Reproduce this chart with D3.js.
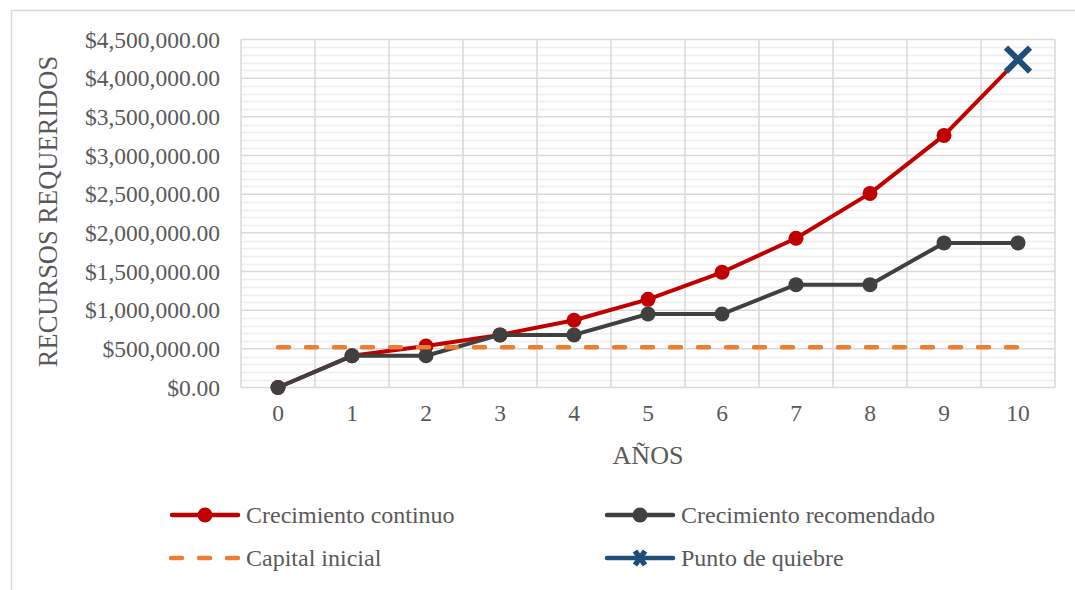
<!DOCTYPE html>
<html>
<head>
<meta charset="utf-8">
<script src="https://cdn.jsdelivr.net/npm/d3@7"></script>
<style>
  html, body { margin: 0; padding: 0; background: #ffffff; }
  svg { display: block; }
  text { font-family: "Liberation Serif", "Times New Roman", serif; fill: #595959; }
</style>
</head>
<body>
<svg id="chart" width="1075" height="590"></svg>
<script>
// Años del horizonte de inversión
const years = [0, 1, 2, 3, 4, 5, 6, 7, 8, 9, 10];
// Recursos requeridos con crecimiento continuo
const continuo = [0, 410000, 537000, 680000, 870000, 1140000, 1490000, 1930000, 2510000, 3260000, 4240000];
// Recursos requeridos con crecimiento recomendado (por etapas)
const recomendado = [0, 410000, 410000, 680000, 680000, 950000, 950000, 1330000, 1330000, 1870000, 1870000];
// Capital inicial disponible
const capitalInicial = 520000;
// Punto de quiebre (año, recursos)
const quiebreYear = 10;
const quiebreValue = 4240000;
// Marcas del eje vertical
const yTicks = [0, 500000, 1000000, 1500000, 2000000, 2500000, 3000000, 3500000, 4000000, 4500000];
const yMinorStep = 100000;

const svg = d3.select("#chart");
const W = 1075, H = 590;
const plot = { left: 241, right: 1055, top: 39.5, bottom: 387.5 };
const serif = '"Liberation Serif", "Times New Roman", serif';

const colors = {
  continuo: "#c00000",
  recomendado: "#404040",
  capital: "#ed7d31",
  quiebre: "#1f4e79",
  grid: "#d9d9d9",
  minor: "#eeeeee"
};

// Marco exterior del gráfico
svg.append("rect")
  .attr("x", 11.5).attr("y", 10.5)
  .attr("width", W + 20).attr("height", H + 20)
  .attr("fill", "#ffffff")
  .attr("stroke", colors.grid).attr("stroke-width", 1.5);

// Escalas
const xBand = d3.scaleBand().domain(years).range([plot.left, plot.right]).padding(0);
const xc = d => xBand(d) + xBand.bandwidth() / 2;
const y = d3.scaleLinear().domain([0, 4500000]).range([plot.bottom, plot.top]);

// Líneas de cuadrícula menores
const minorVals = d3.range(0, 4500000 + 1, yMinorStep).filter(v => v % 500000 !== 0);
svg.append("g").selectAll("line").data(minorVals).join("line")
  .attr("x1", plot.left).attr("x2", plot.right)
  .attr("y1", d => Math.round(y(d)) + 0.5).attr("y2", d => Math.round(y(d)) + 0.5)
  .attr("stroke", colors.minor).attr("stroke-width", 1.5);

// Líneas de cuadrícula mayores (horizontales)
svg.append("g").selectAll("line").data(yTicks).join("line")
  .attr("x1", plot.left).attr("x2", plot.right)
  .attr("y1", d => y(d)).attr("y2", d => y(d))
  .attr("stroke", colors.grid).attr("stroke-width", 1.5);

// Líneas verticales entre categorías
const vBounds = years.map(d => xBand(d)).concat([plot.right]);
svg.append("g").selectAll("line").data(vBounds).join("line")
  .attr("x1", d => d).attr("x2", d => d)
  .attr("y1", plot.top).attr("y2", plot.bottom)
  .attr("stroke", colors.grid).attr("stroke-width", 1.5);

// Eje vertical con formato de moneda
const fmt = d3.format("$,.2f");
const yAxis = d3.axisLeft(y).tickValues(yTicks).tickSize(0).tickPadding(21).tickFormat(fmt);
const gy = svg.append("g").attr("transform", `translate(${plot.left},0)`).call(yAxis);
gy.select(".domain").remove();
gy.selectAll("text").style("font-size", "23.5px").attr("fill", "#595959").style("font-family", serif);

// Eje horizontal (años)
const xAxis = d3.axisBottom(xBand).tickSize(0).tickPadding(17);
const gx = svg.append("g").attr("transform", `translate(0,${plot.bottom})`).call(xAxis);
gx.select(".domain").remove();
gx.selectAll("text").style("font-size", "23.5px").attr("fill", "#595959").style("font-family", serif);

// Títulos de los ejes
svg.append("text")
  .attr("x", (plot.left + plot.right) / 2).attr("y", 464)
  .attr("text-anchor", "middle")
  .style("font-size", "26px")
  .text("AÑOS");

svg.append("text")
  .attr("transform", `translate(57,${(plot.top + plot.bottom) / 2 - 2}) rotate(-90)`)
  .attr("text-anchor", "middle")
  .style("font-size", "26.5px")
  .text("RECURSOS REQUERIDOS");

// Series
const line = d3.line().x((d, i) => xc(years[i])).y(d => y(d));

function drawSeries(values, color) {
  const g = svg.append("g");
  g.append("path").datum(values)
    .attr("d", line)
    .attr("fill", "none").attr("stroke", color)
    .attr("stroke-width", 4).attr("stroke-linejoin", "round").attr("stroke-linecap", "round");
  return g;
}

// Crecimiento continuo (sin marcador en el punto final, cubierto por el punto de quiebre)
const gCont = drawSeries(continuo, colors.continuo);
gCont.selectAll("circle").data(continuo.slice(0, -1)).join("circle")
  .attr("cx", (d, i) => xc(years[i])).attr("cy", d => y(d))
  .attr("r", 7.5).attr("fill", colors.continuo);

// Crecimiento recomendado
const gRec = drawSeries(recomendado, colors.recomendado);
gRec.selectAll("circle").data(recomendado).join("circle")
  .attr("cx", (d, i) => xc(years[i])).attr("cy", d => y(d))
  .attr("r", 7.5).attr("fill", colors.recomendado);

// Capital inicial (línea discontinua)
svg.append("line")
  .attr("x1", xc(years[0])).attr("x2", xc(years[years.length - 1]))
  .attr("y1", y(capitalInicial)).attr("y2", y(capitalInicial))
  .attr("stroke", colors.capital).attr("stroke-width", 4.5)
  .attr("stroke-dasharray", "11,17").attr("stroke-linecap", "round");

// Marcador en forma de X
function drawX(g, cx, cy, s, sw, color) {
  const p = `M${cx - s},${cy - s}L${cx + s},${cy + s}M${cx + s},${cy - s}L${cx - s},${cy + s}`;
  g.append("path").attr("d", p).attr("stroke", "#ffffff").attr("stroke-width", sw + 2.5).attr("fill", "none");
  g.append("path").attr("d", p).attr("stroke", color).attr("stroke-width", sw).attr("fill", "none");
}
drawX(svg.append("g"), xc(quiebreYear), y(quiebreValue), 12, 6, colors.quiebre);

// Leyenda
const legend = svg.append("g");
const items = [
  { label: "Crecimiento continuo", color: colors.continuo, type: "circle", x: 170, y: 515 },
  { label: "Crecimiento recomendado", color: colors.recomendado, type: "circle", x: 605, y: 515 },
  { label: "Capital inicial", color: colors.capital, type: "dash", x: 170, y: 558 },
  { label: "Punto de quiebre", color: colors.quiebre, type: "x", x: 605, y: 558 }
];
items.forEach(it => {
  const g = legend.append("g");
  const x0 = it.x, x1 = it.x + 70, yy = it.y;
  if (it.type === "dash") {
    g.append("line").attr("x1", x0 + 1).attr("x2", x1).attr("y1", yy).attr("y2", yy)
      .attr("stroke", it.color).attr("stroke-width", 4.5)
      .attr("stroke-dasharray", "11,17").attr("stroke-linecap", "round");
  } else {
    g.append("line").attr("x1", x0 + 2).attr("x2", x1 - 2).attr("y1", yy).attr("y2", yy)
      .attr("stroke", it.color).attr("stroke-width", 4.5).attr("stroke-linecap", "round");
    if (it.type === "circle") {
      g.append("circle").attr("cx", (x0 + x1) / 2).attr("cy", yy).attr("r", 7.5).attr("fill", it.color);
    } else {
      const cx = (x0 + x1) / 2;
      g.append("path")
        .attr("d", `M${cx - 5},${yy - 7}L${cx + 5},${yy + 7}M${cx + 5},${yy - 7}L${cx - 5},${yy + 7}`)
        .attr("stroke", it.color).attr("stroke-width", 5.5).attr("fill", "none");
    }
  }
  g.append("text").attr("x", x1 + 6).attr("y", yy).attr("dy", "0.35em")
    .style("font-size", "24px").text(it.label);
});
</script>
</body>
</html>
